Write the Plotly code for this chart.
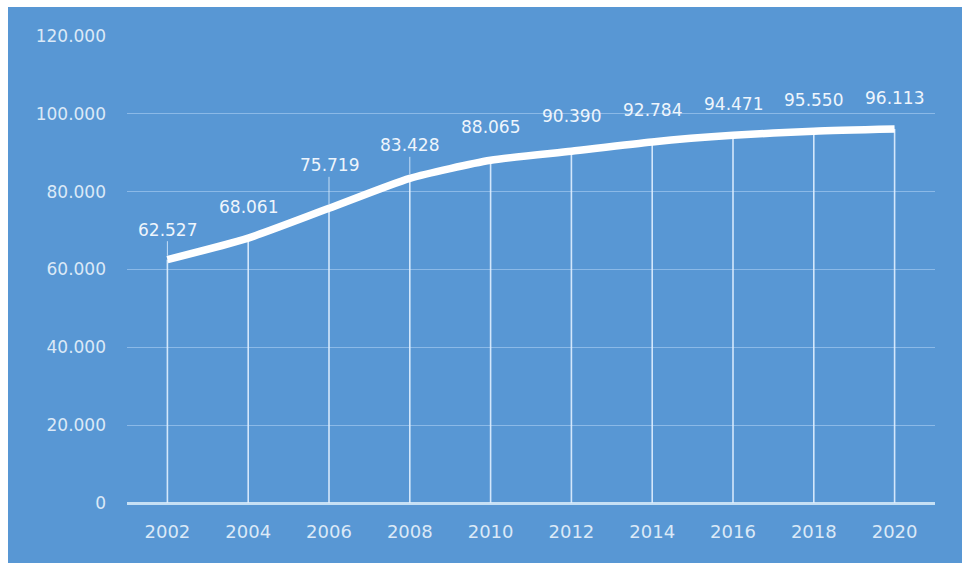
import plotly.graph_objects as go

years = [2002, 2004, 2006, 2008, 2010, 2012, 2014, 2016, 2018, 2020]
values = [62527, 68061, 75719, 83428, 88065, 90390, 92784, 94471, 95550, 96113]
y_ticks = [0, 20000, 40000, 60000, 80000, 100000, 120000]

# label placement (style only): vertical offset in px and whether a leader line is drawn
label_offsets = [-30, -31, -43, -33, -33, -35, -32, -31, -31, -31]
label_leaders = [True, False, True, True, False, False, False, False, False, False]

BG = "#5897d4"
TXT = "#dbe9f7"
FONT = "DejaVu Sans"

def fmt(v):
    return f"{v:,}".replace(",", ".")

fig = go.Figure()

# drop lines from each point down to the axis
fig.add_trace(go.Scatter(
    x=years, y=values, mode="markers",
    marker=dict(size=1, color="rgba(0,0,0,0)"),
    error_y=dict(type="data", symmetric=False, array=[0] * len(values),
                 arrayminus=values, thickness=1.6, width=0,
                 color="rgba(225,240,255,0.9)"),
    hoverinfo="skip", showlegend=False,
))

fig.add_trace(go.Scatter(
    x=years, y=values, mode="lines",
    line=dict(color="white", width=7.5, shape="spline", smoothing=0.6),
    showlegend=False,
))

for x, v, off, lead in zip(years, values, label_offsets, label_leaders):
    if lead:
        fig.add_annotation(x=x, y=v, text=fmt(v), showarrow=True, ax=0, ay=off,
                           arrowhead=0, arrowwidth=1, arrowcolor="rgba(225,240,255,0.8)",
                           standoff=4, font=dict(family=FONT, size=17, color="#eef5fc"))
    else:
        fig.add_annotation(x=x, y=v, text=fmt(v), showarrow=False, yshift=-off,
                           font=dict(family=FONT, size=17, color="#eef5fc"))

fig.update_layout(
    width=970, height=571,
    margin=dict(l=119, r=43, t=29, b=75),
    paper_bgcolor=BG, plot_bgcolor=BG,
    separators=",.",
    font=dict(family=FONT, color=TXT),
    showlegend=False,
)
fig.update_xaxes(
    range=[2001, 2021], tickvals=years, ticktext=[str(y) for y in years],
    showgrid=False, zeroline=False, showline=False,
    tickfont=dict(family=FONT, size=18, color=TXT), ticks="", ticklabelstandoff=16,
)
fig.update_yaxes(
    range=[0, 120000], tickvals=y_ticks, tickformat=",d",
    showgrid=True, gridcolor="rgba(190,220,250,0.5)", gridwidth=1,
    zeroline=True, zerolinecolor="#c6e0f5", zerolinewidth=2.5,
    tickfont=dict(family=FONT, size=17, color=TXT), ticks="", ticklabelstandoff=20,
)

fig.write_html(
    "out.html",
    post_script="document.body.style.margin='7px 0 0 8px';document.body.style.overflow='hidden';",
)
